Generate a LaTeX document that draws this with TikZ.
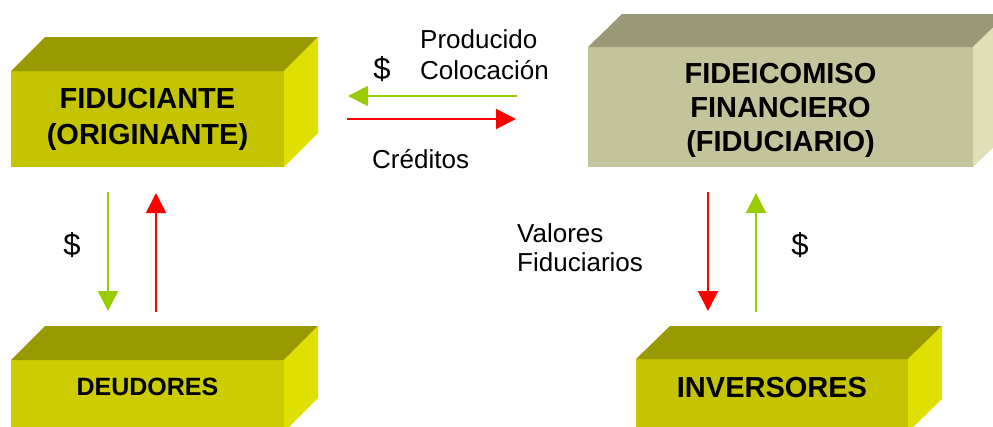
\documentclass[tikz,border=0pt]{standalone}
\usepackage{fontspec}
\setmainfont{Liberation Sans}
\usetikzlibrary{arrows.meta}
\definecolor{yfront}{HTML}{C4C400}
\definecolor{yfrontb}{HTML}{CCCC00}
\definecolor{ytop}{HTML}{999900}
\definecolor{yside}{HTML}{E0E000}
\definecolor{kfront}{HTML}{C4C49C}
\definecolor{ktop}{HTML}{999978}
\definecolor{kside}{HTML}{E0E0B8}
\definecolor{agreen}{HTML}{99CC00}
\definecolor{ared}{HTML}{FF0000}
\begin{document}
\begin{tikzpicture}[x=1pt,y=-1pt,
  faceshape/.style={rectangle, inner sep=0pt, outer sep=0pt, draw=none},
  boxtext/.style={inner sep=0pt, align=center, text depth=0pt, font=\bfseries},
  lbl/.style={inner sep=0pt, font=\fontsize{26}{30}\selectfont},
  dollar/.style={inner sep=0pt, font=\fontsize{31}{34}\selectfont},
  arrowline/.style={line width=2pt, -{Triangle[length=20pt,width=20pt]}},
]
\useasboundingbox (0,0) rectangle (993,426);
\clip (0,0) rectangle (993,426);

% FIDUCIANTE box
\node[faceshape, fill=yfront, minimum width=273pt, minimum height=96pt] (fid) at (147.5,119) {};
\fill[ytop] (fid.north west) -- ([shift={(34,-34)}]fid.north west) -- ([shift={(34,-34)}]fid.north east) -- (fid.north east) -- cycle;
\fill[yside] (fid.north east) -- ([shift={(34,-34)}]fid.north east) -- ([shift={(34,-34)}]fid.south east) -- (fid.south east) -- cycle;
\node[boxtext, font=\fontsize{29}{36}\selectfont\bfseries] (fidtxt) at (147.5,116) {FIDUCIANTE\\(ORIGINANTE)};

% FIDEICOMISO box
\node[faceshape, fill=kfront, minimum width=385pt, minimum height=120pt] (ff) at (780.5,107) {};
\fill[ktop] (ff.north west) -- ([shift={(34,-33)}]ff.north west) -- ([shift={(34,-33)}]ff.north east) -- (ff.north east) -- cycle;
\fill[kside] (ff.north east) -- ([shift={(34,-33)}]ff.north east) -- ([shift={(34,-33)}]ff.south east) -- (ff.south east) -- cycle;
\node[boxtext, font=\fontsize{29}{34}\selectfont\bfseries] (fftxt) at (780.5,107) {FIDEICOMISO\\FINANCIERO\\(FIDUCIARIO)};

% DEUDORES box
\node[faceshape, fill=yfrontb, minimum width=273pt, minimum height=72pt] (deu) at (147.5,396) {};
\fill[ytop] (deu.north west) -- ([shift={(34,-34)}]deu.north west) -- ([shift={(34,-34)}]deu.north east) -- (deu.north east) -- cycle;
\fill[yside] (deu.north east) -- ([shift={(34,-34)}]deu.north east) -- ([shift={(34,-34)}]deu.south east) -- (deu.south east) -- cycle;
\node[boxtext, font=\fontsize{25}{28}\selectfont\bfseries] (deutxt) at (147.5,386.5) {DEUDORES};

% INVERSORES box
\node[faceshape, fill=yfront, minimum width=272pt, minimum height=73pt] (inv) at (772,395.5) {};
\fill[ytop] (inv.north west) -- ([shift={(34,-33)}]inv.north west) -- ([shift={(34,-33)}]inv.north east) -- (inv.north east) -- cycle;
\fill[yside] (inv.north east) -- ([shift={(34,-33)}]inv.north east) -- ([shift={(34,-33)}]inv.south east) -- (inv.south east) -- cycle;
\node[boxtext, font=\fontsize{29}{34}\selectfont\bfseries] (invtxt) at (772,387.5) {INVERSORES};

% arrow end points
\coordinate (hgS) at (517,96);  \coordinate (hgE) at (348,96);
\coordinate (hrS) at (347,119); \coordinate (hrE) at (516,119);
\coordinate (lgS) at (108,192); \coordinate (lgE) at (108,311);
\coordinate (lrS) at (156,312); \coordinate (lrE) at (156,193);
\coordinate (rrS) at (708,192); \coordinate (rrE) at (708,311);
\coordinate (rgS) at (756,312); \coordinate (rgE) at (756,193);

\draw[arrowline, draw=agreen, fill=agreen] (hgS) -- (hgE);
\draw[arrowline, draw=ared, fill=ared] (hrS) -- (hrE);
\draw[arrowline, draw=agreen, fill=agreen] (lgS) -- (lgE);
\draw[arrowline, draw=ared, fill=ared] (lrS) -- (lrE);
\draw[arrowline, draw=ared, fill=ared] (rrS) -- (rrE);
\draw[arrowline, draw=agreen, fill=agreen] (rgS) -- (rgE);

% labels
\node[dollar] (d1) at (382,69) {\$};
\node[lbl, anchor=base west] (prod) at (420,48) {Producido};
\node[lbl, anchor=base west] (col) at (420,79) {Colocación};
\node[lbl, anchor=base west] (cred) at (372,168) {Créditos};
\node[dollar] (d2) at (72,245) {\$};
\node[lbl, anchor=base west] (val) at (517,242) {Valores};
\node[lbl, anchor=base west] (fidu) at (517,271) {Fiduciarios};
\node[dollar] (d3) at (800,245) {\$};
\end{tikzpicture}
\end{document}
